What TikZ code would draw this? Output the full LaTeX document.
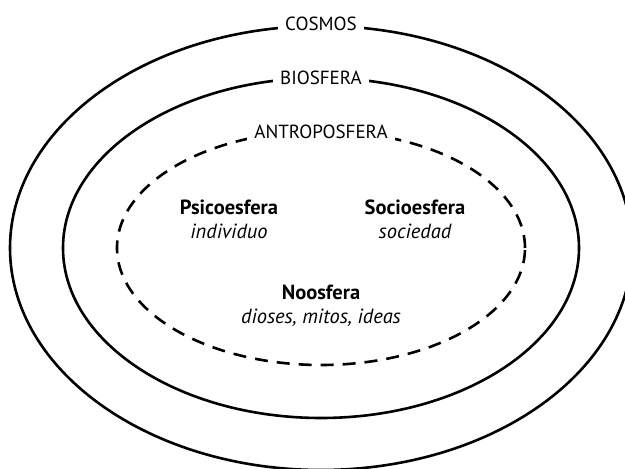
\documentclass[tikz,border=0pt]{standalone}
\usepackage{fontspec}
\setmainfont{PT Sans}
\usetikzlibrary{positioning}

\begin{document}
\begin{tikzpicture}[
            x = 1pt, y = 1pt, % one unit per pixel
            line width = 2.6pt, % line style
            node distance = 1pt % between a sphere and its note
        ]

        \tikzstyle{ring label}=[
            fill = white,
            inner sep = 7pt,
            font = \fontsize{19}{22}\selectfont
        ]
        \tikzstyle{sphere name}=[
            inner sep = 0pt,
            text height = 15pt,
            text depth = 5pt,
            font = \fontsize{20.5}{24}\selectfont\bfseries
        ]
        \tikzstyle{sphere note}=[
            sphere name,
            font = \fontsize{20.5}{24}\selectfont\itshape
        ]

        \useasboundingbox (0,0) rectangle (625,469);

        \coordinate (mid) at (321,221);

        % the three spheres
        \draw (mid) ellipse [x radius = 311, y radius = 222];
        \draw (mid) ellipse [x radius = 258, y radius = 170];
        \draw[dash pattern = on 13pt off 9pt] (mid) ellipse [x radius = 204, y radius = 117];

        \node[ring label] (cosmos) at (321,445) {COSMOS};
        \node[ring label] (bio) at (321,391) {BIOSFERA};
        \node[ring label] (antropo) at (321,337) {ANTROPOSFERA};

        \node[sphere name] (psico) at (229,259) {Psicoesfera};
        \node[sphere note] (indiv) [below = of psico] {individuo};
        \node[sphere name] (socio) at (415,259) {Socioesfera};
        \node[sphere note] (soc) [below = of socio] {sociedad};
        \node[sphere name] (noo) at (321,174) {Noosfera};
        \node[sphere note] (dioses) [below = of noo] {dioses, mitos, ideas};
    \end{tikzpicture}
\end{document}
